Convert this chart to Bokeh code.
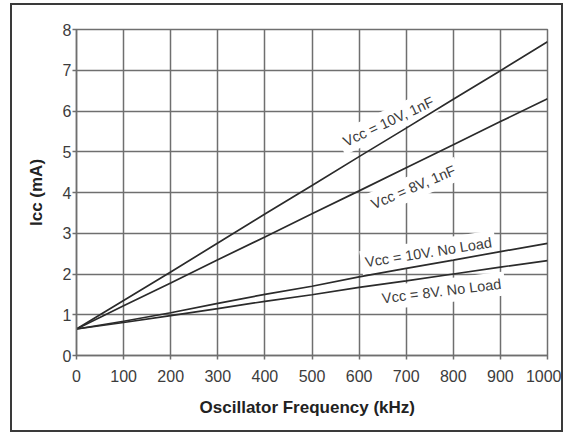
from bokeh.plotting import figure
from bokeh.models import ColumnDataSource, FixedTicker, Range1d
from bokeh.core.properties import value
from bokeh.embed import file_html
from bokeh.resources import INLINE

# ---- data ----
freq_khz = [0, 100, 200, 300, 400, 500, 600, 700, 800, 900, 1000]
icc_10v_1nf = [0.65, 1.35, 2.05, 2.76, 3.47, 4.17, 4.88, 5.58, 6.29, 6.99, 7.70]
icc_8v_1nf = [0.65, 1.22, 1.78, 2.35, 2.91, 3.48, 4.04, 4.61, 5.17, 5.74, 6.30]
icc_10v_noload = [0.65, 0.84, 1.05, 1.28, 1.50, 1.70, 1.93, 2.14, 2.34, 2.55, 2.75]
icc_8v_noload = [0.65, 0.81, 0.98, 1.15, 1.33, 1.49, 1.67, 1.83, 2.00, 2.17, 2.33]
series_labels = ["Vcc = 10V, 1nF", "Vcc = 8V, 1nF", "Vcc = 10V. No Load", "Vcc = 8V. No Load"]
x_ticks = [0, 100, 200, 300, 400, 500, 600, 700, 800, 900, 1000]
y_ticks = [0, 1, 2, 3, 4, 5, 6, 7, 8]

FONT = "Liberation Sans"
GRID = "#6f6f6f"
INK = "#2b2b2b"
TXT = "#3c3c3c"

p = figure(width=553, height=429,
           x_range=Range1d(0, 1000), y_range=Range1d(0, 8),
           output_backend="svg", toolbar_location=None,
           min_border_left=64, min_border_right=18,
           min_border_top=24, min_border_bottom=79,
           styles={"border": "2px solid #3a3a3a",
                   "margin-left": "10px", "margin-top": "3px"})

p.background_fill_color = "white"
p.border_fill_color = "white"
p.outline_line_color = GRID
p.outline_line_width = 1.5

for ax in (p.xaxis, p.yaxis):
    ax.major_label_text_font = FONT
    ax.major_label_text_font_size = "16px"
    ax.major_label_text_color = TXT
    ax.axis_label_text_font = FONT
    ax.axis_label_text_font_size = "17px"
    ax.axis_label_text_font_style = "bold"
    ax.axis_label_text_color = "#222222"
    ax.axis_line_color = GRID
    ax.axis_line_width = 1.5
    ax.major_tick_line_color = GRID
    ax.major_tick_line_width = 1.5
    ax.major_tick_out = 4
    ax.major_tick_in = 0
    ax.minor_tick_line_color = None

p.xaxis.ticker = FixedTicker(ticks=x_ticks)
p.yaxis.ticker = FixedTicker(ticks=y_ticks)
p.xaxis.axis_label = "Oscillator  Frequency  (kHz)"
p.yaxis.axis_label = "Icc (mA)"
p.xaxis.major_label_standoff = 10
p.xaxis.axis_label_standoff = 13
p.yaxis.major_label_standoff = 1
p.yaxis.axis_label_standoff = 14

p.grid.grid_line_color = GRID
p.grid.grid_line_width = 1.5

# curve labels with white boxes (drawn before the lines so lines stay on top)
lbl = ColumnDataSource(dict(
    x=[662, 715, 747, 775],
    y=[5.74, 4.13, 2.53, 1.58],
    text=series_labels,
    angle=[25, 23, 9, 7],
))
p.text(x="x", y="y", text="text", angle="angle", angle_units="deg", source=lbl,
       text_font=value(FONT), text_font_size="14.5px", text_color=TXT,
       text_align="center", text_baseline="middle",
       background_fill_color="white", padding=4)

for ys in (icc_10v_1nf, icc_8v_1nf, icc_10v_noload, icc_8v_noload):
    p.line(freq_khz, ys, line_color=INK, line_width=1.7)

open("out.html", "w").write(file_html(p, INLINE))
